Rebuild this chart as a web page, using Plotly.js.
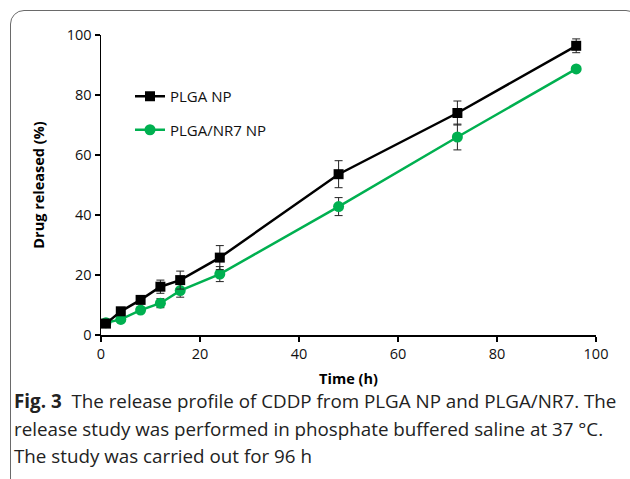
<!DOCTYPE html>
<html>
<head>
<meta charset="utf-8">
<script src="https://cdn.plot.ly/plotly-3.0.1.min.js"></script>
<style>
  html, body { margin: 0; padding: 0; background: #fff; width: 630px; height: 479px; overflow: hidden; }
  #frame { position: absolute; left: 10px; top: 10px; width: 630px; height: 520px;
           border: 1.3px solid #6a6a6a; border-radius: 14px; box-sizing: border-box; }
  #chart { position: absolute; left: 0; top: 0; width: 630px; height: 479px; }
</style>
</head>
<body>
<div id="frame"></div>
<div id="chart"></div>
<script>
// Time points (h)
const timeH = [1, 4, 8, 12, 16, 24, 48, 72, 96];
// Drug released (%)
const plgaNP = [3.8, 7.9, 11.7, 16.1, 18.3, 25.8, 53.6, 74.0, 96.4];
const plgaNPErr = [0.8, 0.8, 1.0, 2.2, 3.0, 4.0, 4.5, 4.0, 2.3];
const plgaNR7 = [4.1, 5.2, 8.3, 10.6, 14.8, 20.3, 42.8, 66.0, 88.7];
const plgaNR7Err = [0.8, 0.8, 0.8, 1.5, 2.2, 2.5, 3.0, 4.3, 0.8];
const xTicks = [0, 20, 40, 60, 80, 100];
const yTicks = [0, 20, 40, 60, 80, 100];
const seriesNames = ['PLGA NP', 'PLGA/NR7 NP'];
const captionLines = [
  '<b>Fig. 3</b>  The release profile of CDDP from PLGA NP and PLGA/NR7. The',
  'release study was performed in phosphate buffered saline at 37 °C.',
  'The study was carried out for 96 h'
];

const green = '#00b050';
const traces = [
  {
    x: timeH, y: plgaNR7, name: seriesNames[1], legendgroup: 'b', legendrank: 2,
    type: 'scatter', mode: 'lines+markers', cliponaxis: false,
    line: { color: green, width: 2.5 },
    marker: { symbol: 'circle', size: 11, color: green },
    error_y: { type: 'data', array: plgaNR7Err, visible: true, color: '#222', thickness: 1, width: 4 }
  },
  {
    x: timeH, y: plgaNP, name: seriesNames[0], legendgroup: 'a', legendrank: 1,
    type: 'scatter', mode: 'lines+markers', cliponaxis: false,
    line: { color: '#000', width: 2.5 },
    marker: { symbol: 'square', size: 10, color: '#000' },
    error_y: { type: 'data', array: plgaNPErr, visible: true, color: '#222', thickness: 1, width: 4 }
  }
];

const L = 101, R = 596, T = 35, B = 335, W = 630, H = 479;
const pw = R - L, ph = B - T;
const px2x = p => (p - L) / pw;
const py2y = p => (B - p) / ph;

const annotations = captionLines.map((t, i) => ({
  text: t, xref: 'paper', yref: 'paper',
  x: px2x(12), y: py2y([401, 429, 456][i]),
  xanchor: 'left', yanchor: 'middle', showarrow: false, align: 'left',
  font: { family: 'Open Sans, sans-serif', size: 18.8, color: '#222' }
}));

const layout = {
  width: W, height: H,
  margin: { l: L, r: W - R, t: T, b: H - B },
  paper_bgcolor: 'rgba(0,0,0,0)', plot_bgcolor: 'rgba(0,0,0,0)',
  showlegend: true,
  legend: {
    x: px2x(130), y: py2y(80), xanchor: 'left', yanchor: 'top',
    bgcolor: 'rgba(0,0,0,0)', traceorder: 'grouped', tracegroupgap: 11,
    font: { family: 'Open Sans, sans-serif', size: 15, color: '#111' }
  },
  xaxis: {
    range: [0, 100], tickvals: xTicks, ticktext: xTicks.map(String),
    showline: true, linecolor: '#000', linewidth: 1.5, mirror: false,
    ticks: 'outside', ticklen: 5, tickcolor: '#000', tickwidth: 1.5,
    showgrid: false, zeroline: false,
    tickfont: { family: 'Open Sans, sans-serif', size: 14.5, color: '#111' },
    title: { text: '<b>Time (h)</b>', standoff: 12, font: { family: 'Open Sans, sans-serif', size: 14.5, color: '#000' } }
  },
  yaxis: {
    range: [0, 100], tickvals: yTicks, ticktext: yTicks.map(String),
    showline: true, linecolor: '#000', linewidth: 1.5,
    ticks: 'outside', ticklen: 5, tickcolor: '#000', tickwidth: 1.5,
    showgrid: false, zeroline: false,
    tickfont: { family: 'Open Sans, sans-serif', size: 14.5, color: '#111' },
    title: { text: '<b>Drug released (%)</b>', standoff: 18, font: { family: 'Open Sans, sans-serif', size: 14.5, color: '#000' } }
  },
  annotations: annotations
};

Plotly.newPlot('chart', traces, layout, { displayModeBar: false, staticPlot: true });
</script>
</body>
</html>
